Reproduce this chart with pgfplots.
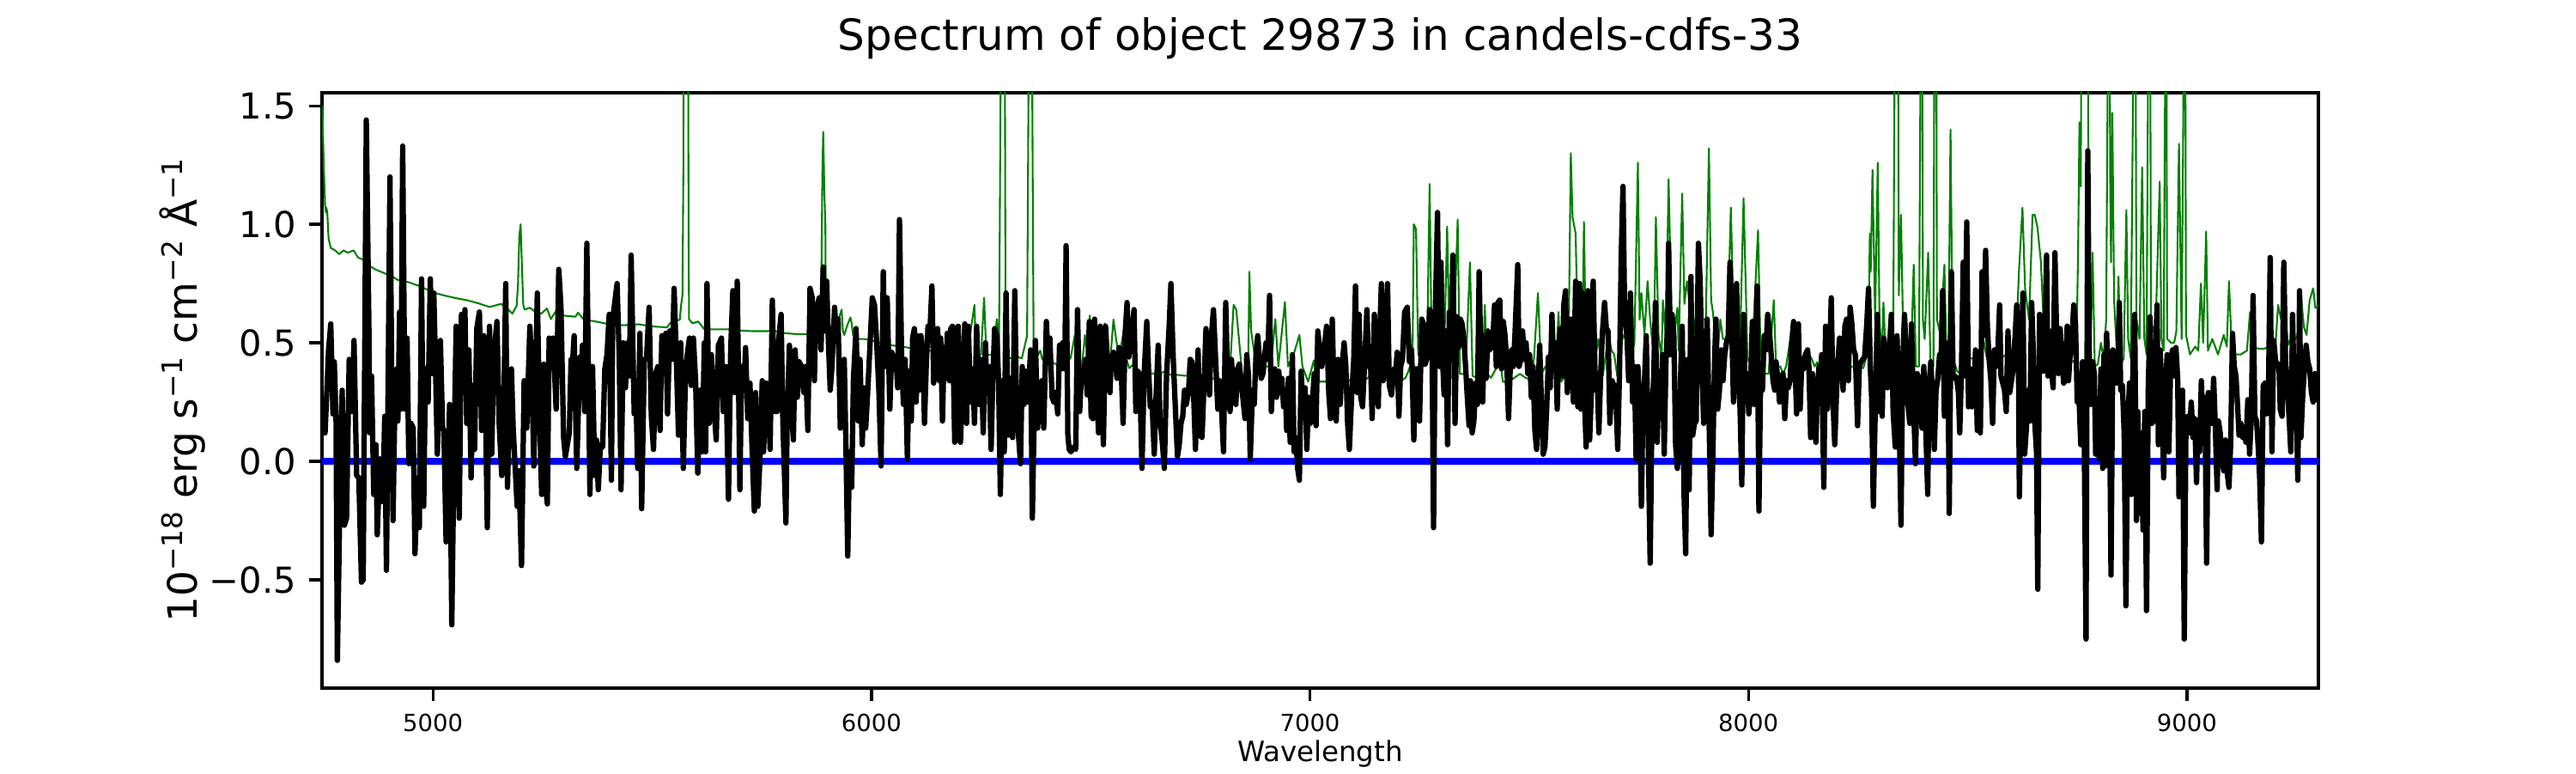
\documentclass[border=0pt]{standalone}
\usepackage{fontspec}
\setmainfont{DejaVu Sans}
\usepackage{pgfplots}
\pgfplotsset{compat=1.18}
\definecolor{mplgreen}{RGB}{0,128,0}
\definecolor{mplblue}{RGB}{0,0,255}
\newcommand\sups[1]{\raisebox{4.2bp}{\fontsize{7.9bp}{8bp}\selectfont #1}}
\begin{document}
\begin{tikzpicture}
\begin{axis}[
  at={(90bp,23.76bp)}, anchor=south west,
  scale only axis, width=558bp, height=166.32bp,
  xmin=4747, xmax=9300, ymin=-0.957, ymax=1.555,
  axis line style={line width=0.8bp},
  tick align=outside, tick pos=left,
  major tick length=3.5bp,
  every tick/.style={black, line width=0.8bp},
  xtick={5000,6000,7000,8000,9000},
  xticklabels={5000,6000,7000,8000,9000},
  ytick={-0.5,0,0.5,1,1.5},
  yticklabels={−0.5,0.0,0.5,1.0,1.5},
  xticklabel style={font=\fontsize{6.6bp}{8bp}\selectfont, anchor=base, inner sep=0pt, yshift=-8.5bp},
  yticklabel style={font=\fontsize{10bp}{12bp}\selectfont, anchor=east, inner sep=0pt, xshift=-3.5bp},
  title={Spectrum of object 29873 in candels-cdfs-33},
  title style={at={(axis description cs:0.5,1)}, anchor=base, yshift=6bp, inner sep=0pt, font=\fontsize{12bp}{14bp}\selectfont},
  xlabel={Wavelength},
  xlabel style={at={(axis description cs:0.5,-0.1233)}, anchor=base, inner sep=0pt, font=\fontsize{7.8bp}{9bp}\selectfont},
  ylabel={10\sups{−18} erg s\sups{−1} cm\sups{−2} Å\sups{−1}},
  ylabel style={at={(axis description cs:-0.0624,0.5)}, anchor=base, inner sep=0pt, font=\fontsize{11.3bp}{13bp}\selectfont},
]
\addplot[mplgreen, line width=0.5bp, line join=round] table {
x y
4747 1.50
4748 1.48
4751 1.25
4754 1.08
4756 1.05
4757 1.07
4759 1.05
4762 0.94
4767 0.90
4777 0.89
4786 0.874
4796 0.89
4806 0.88
4819 0.89
4829 0.86
4842 0.85
4855 0.825
4868 0.81
4881 0.80
4894 0.79
4907 0.78
4920 0.765
4933 0.76
4946 0.755
4959 0.746
4972 0.738
4985 0.726
4999 0.713
5025 0.70
5051 0.689
5077 0.68
5103 0.667
5129 0.651
5155 0.664
5168 0.648
5181 0.623
5191 0.656
5194 0.75
5197 0.95
5200 1.00
5203 0.82
5206 0.66
5209 0.64
5221 0.648
5234 0.63
5247 0.623
5260 0.645
5269 0.60
5279 0.63
5298 0.615
5325 0.61
5331 0.627
5344 0.598
5371 0.59
5403 0.578
5436 0.574
5469 0.578
5501 0.569
5534 0.565
5540 0.582
5563 0.598
5566 0.66
5569 0.70
5571 1.2
5573 2.5
5577 3.0
5581 2.5
5583 1.0
5584 0.60
5592 0.582
5605 0.59
5619 0.557
5645 0.557
5671 0.557
5697 0.552
5729 0.549
5762 0.549
5775 0.552
5801 0.541
5827 0.537
5854 0.536
5873 0.536
5883 0.55
5886 0.79
5888 1.20
5890 1.39
5891 1.30
5893 1.11
5895 1.0
5896 0.60
5899 0.60
5906 0.565
5912 0.574
5919 0.557
5925 0.598
5932 0.64
5935 0.55
5938 0.533
5945 0.574
5952 0.607
5955 0.582
5958 0.533
5971 0.516
5984 0.516
6004 0.508
6017 0.50
6036 0.492
6056 0.487
6069 0.484
6082 0.48
6095 0.475
6121 0.467
6134 0.467
6147 0.459
6160 0.467
6167 0.484
6180 0.459
6199 0.451
6212 0.459
6225 0.533
6235 0.66
6238 0.48
6239 0.45
6250 0.45
6257 0.69
6262 0.45
6278 0.45
6286 0.60
6291 0.465
6296 2.0
6300 3.0
6304 2.0
6306 0.45
6317 0.434
6330 0.443
6343 0.434
6355 0.53
6358 1.5
6363 3.0
6367 1.5
6370 0.434
6376 0.434
6385 0.467
6389 0.434
6395 0.418
6409 0.418
6422 0.41
6435 0.40
6447 0.426
6454 0.434
6464 0.533
6470 0.40
6480 0.40
6487 0.533
6493 0.434
6498 0.615
6503 0.45
6513 0.434
6523 0.426
6532 0.582
6539 0.434
6545 0.434
6552 0.598
6558 0.516
6565 0.434
6575 0.549
6581 0.434
6588 0.393
6598 0.41
6611 0.377
6630 0.372
6656 0.369
6666 0.377
6676 0.365
6695 0.365
6715 0.361
6728 0.361
6754 0.352
6780 0.349
6806 0.344
6819 0.43
6826 0.66
6832 0.64
6839 0.50
6846 0.352
6859 0.369
6862 0.80
6866 0.55
6875 0.434
6885 0.40
6898 0.40
6911 0.40
6921 0.60
6928 0.40
6943 0.672
6950 0.40
6963 0.451
6976 0.533
6983 0.40
6996 0.336
7009 0.426
7015 0.32
7022 0.336
7035 0.336
7048 0.36
7061 0.36
7074 0.369
7087 0.344
7100 0.336
7113 0.336
7126 0.344
7139 0.36
7152 0.369
7165 0.36
7178 0.377
7192 0.369
7205 0.336
7218 0.352
7224 0.377
7234 0.434
7237 1.0
7242 0.98
7247 0.45
7254 0.516
7260 0.40
7267 0.434
7273 1.17
7278 0.434
7290 0.615
7296 0.631
7306 0.434
7313 0.99
7319 0.434
7329 0.566
7337 1.02
7342 0.369
7348 0.369
7355 0.369
7365 0.84
7371 0.36
7381 0.352
7394 0.385
7399 0.66
7404 0.369
7413 0.352
7427 0.40
7433 0.434
7440 0.336
7453 0.336
7466 0.352
7479 0.369
7492 0.352
7505 0.344
7511 0.434
7520 0.71
7528 0.369
7537 0.40
7550 0.377
7560 0.369
7567 0.63
7573 0.336
7583 0.36
7590 0.50
7595 1.30
7599 1.03
7606 0.96
7612 0.434
7621 0.434
7625 1.01
7629 0.516
7642 0.434
7648 0.40
7658 0.516
7668 0.36
7681 0.533
7688 0.467
7694 0.451
7701 0.36
7707 0.434
7714 0.533
7720 0.516
7727 0.533
7733 0.434
7740 0.50
7748 1.26
7752 0.598
7756 0.71
7763 0.533
7770 0.76
7776 0.598
7784 0.434
7789 1.03
7795 0.533
7802 0.434
7805 0.68
7812 0.516
7818 1.19
7825 0.598
7831 0.533
7838 0.648
7841 0.467
7849 1.13
7854 0.664
7860 0.76
7867 0.648
7874 0.516
7883 0.664
7890 0.434
7896 0.598
7903 0.598
7910 1.32
7915 0.68
7919 0.63
7929 0.434
7936 0.598
7942 0.516
7952 0.516
7960 1.07
7967 0.533
7975 0.434
7981 0.50
7989 1.11
7998 0.434
8007 0.40
8022 0.975
8027 0.516
8033 0.369
8046 0.369
8058 0.68
8063 0.40
8073 0.40
8079 0.369
8086 0.40
8097 0.533
8102 0.434
8112 0.40
8122 0.434
8131 0.467
8138 0.451
8144 0.434
8151 0.40
8157 0.418
8171 0.377
8184 0.385
8196 0.377
8210 0.385
8223 0.385
8236 0.40
8249 0.40
8262 0.393
8268 0.434
8274 0.566
8277 0.96
8279 0.80
8283 1.23
8289 0.598
8295 1.26
8299 0.598
8304 0.434
8308 0.67
8314 0.40
8324 0.385
8330 0.434
8333 1.5
8335 3.0
8340 3.0
8343 0.70
8348 1.04
8352 0.631
8360 0.598
8366 0.434
8373 0.566
8377 0.83
8382 0.40
8389 0.40
8392 1.5
8394 3.0
8397 1.5
8398 0.598
8402 0.516
8410 0.88
8415 0.434
8422 0.40
8425 2.5
8427 3.0
8429 1.5
8430 0.598
8438 0.533
8447 0.83
8451 0.50
8456 0.434
8461 1.40
8466 0.434
8477 0.377
8490 0.377
8503 0.434
8516 0.434
8529 0.434
8536 0.516
8542 0.451
8549 0.40
8562 0.434
8575 0.434
8588 0.451
8601 0.467
8614 0.664
8617 0.80
8625 1.07
8631 0.73
8640 0.598
8648 1.04
8653 1.04
8659 0.99
8667 0.844
8673 0.598
8680 0.467
8693 0.434
8706 0.40
8719 0.40
8725 0.41
8738 0.418
8748 0.434
8752 0.90
8755 1.43
8758 1.16
8761 2.5
8764 3.0
8770 3.0
8774 2.0
8777 0.434
8782 0.60
8785 0.88
8790 0.40
8797 0.41
8804 0.50
8810 0.434
8816 0.598
8819 1.5
8822 3.0
8825 1.2
8827 0.84
8830 1.47
8834 0.68
8840 0.467
8844 0.78
8849 0.41
8856 0.434
8862 1.06
8866 0.516
8872 0.434
8877 1.5
8881 3.0
8885 0.598
8892 0.516
8898 1.24
8903 0.516
8908 0.451
8911 1.5
8915 3.0
8918 0.598
8928 0.516
8938 1.18
8942 0.516
8947 0.467
8950 1.5
8952 3.0
8955 0.516
8964 0.50
8971 0.50
8976 0.549
8982 1.34
8988 0.516
8992 1.5
8995 3.0
8998 0.533
9007 0.451
9019 0.484
9026 0.467
9032 0.75
9037 0.50
9044 0.97
9048 0.467
9058 0.516
9071 0.451
9084 0.533
9091 0.484
9096 0.76
9101 0.533
9110 0.451
9123 0.451
9137 0.467
9144 0.63
9149 0.484
9163 0.475
9176 0.475
9189 0.484
9202 0.484
9208 0.66
9215 0.598
9221 0.66
9231 0.492
9241 0.533
9247 0.516
9254 0.533
9259 0.72
9267 0.566
9273 0.533
9280 0.68
9288 0.73
9293 0.647
9300 0.656
};
\addplot[mplblue, line width=1.7bp] coordinates {(4747,0) (9300,0)};
\addplot[black, line width=1.5bp, line join=round] table {
x y
4747 0.19
4754 0.12
4757 0.25
4762 0.47
4767 0.58
4772 0.20
4775 0.42
4779 0.19
4782 -0.84
4788 -0.14
4793 0.30
4798 -0.27
4803 -0.24
4809 0.43
4815 0.21
4820 0.51
4826 -0.06
4831 -0.07
4837 -0.51
4841 -0.50
4848 1.44
4854 0.56
4856 0.12
4860 0.36
4865 -0.14
4870 0.07
4873 -0.31
4879 0.01
4882 -0.17
4886 -0.16
4890 0.19
4894 -0.46
4902 1.20
4909 -0.25
4914 0.34
4918 0.39
4920 0.17
4924 0.63
4927 0.22
4931 1.33
4936 0.22
4941 0.52
4945 -0.01
4950 0.16
4955 0.14
4959 -0.39
4965 -0.07
4969 -0.28
4974 0.77
4979 -0.19
4983 0.39
4989 0.25
4994 0.77
4999 0.37
5002 0.71
5006 0.39
5010 0.03
5017 0.51
5022 0.14
5025 0.13
5030 -0.34
5038 0.24
5043 -0.69
5048 0.03
5053 0.57
5060 -0.24
5065 0.62
5069 0.43
5073 0.64
5077 0.16
5082 0.47
5087 -0.07
5091 0.32
5095 0.05
5100 0.56
5106 0.63
5111 0.13
5116 0.53
5120 0.22
5124 -0.28
5129 0.57
5134 0.03
5139 0.45
5146 0.59
5151 0.16
5157 -0.06
5161 0.16
5166 0.75
5170 -0.11
5175 0.25
5179 0.39
5183 0.14
5188 -0.04
5192 -0.19
5196 -0.04
5202 -0.44
5208 0.34
5214 0.14
5221 0.57
5225 0.43
5230 -0.02
5238 0.71
5243 0.19
5248 -0.14
5253 0.41
5256 -0.09
5261 -0.18
5265 0.52
5269 0.49
5274 0.52
5281 0.22
5287 0.81
5292 0.65
5298 0.10
5302 0.02
5311 0.12
5315 0.43
5318 0.40
5322 0.53
5328 -0.03
5335 0.44
5338 0.32
5341 0.49
5346 0.21
5351 0.92
5358 -0.14
5364 0.40
5369 -0.06
5373 0.09
5377 -0.12
5382 0.07
5387 0.06
5392 0.39
5397 0.45
5402 0.62
5407 -0.08
5410 0.60
5414 0.66
5420 0.75
5425 0.43
5429 -0.12
5434 0.50
5439 0.31
5444 0.50
5448 0.36
5452 0.87
5459 0.20
5462 0.34
5467 -0.03
5472 0.54
5476 -0.20
5482 0.43
5487 0.43
5493 0.65
5498 0.19
5503 0.05
5508 0.37
5513 0.40
5518 0.13
5522 0.53
5527 0.37
5531 0.54
5535 0.20
5540 0.55
5546 0.43
5550 0.73
5555 0.44
5560 0.11
5565 0.50
5571 -0.03
5576 0.36
5580 0.45
5585 0.52
5589 0.32
5594 0.52
5599 0.34
5604 -0.05
5609 0.30
5614 0.04
5619 0.50
5622 0.04
5625 0.75
5630 0.16
5635 0.45
5642 0.20
5646 0.09
5651 0.49
5658 0.52
5662 0.21
5668 0.40
5674 -0.16
5679 0.47
5684 0.72
5688 0.29
5694 0.76
5700 -0.12
5704 0.40
5709 0.30
5713 0.48
5718 0.18
5723 0.33
5728 0.04
5733 -0.21
5736 0.29
5741 -0.19
5746 0.02
5751 0.34
5754 0.04
5760 0.33
5764 0.29
5769 0.05
5774 0.68
5779 0.21
5785 0.21
5788 0.50
5794 0.62
5798 0.17
5805 -0.26
5808 0.19
5813 0.49
5818 0.21
5822 0.09
5826 0.47
5831 0.27
5835 0.42
5841 0.40
5846 0.29
5850 0.40
5855 0.13
5860 0.73
5865 0.69
5870 0.34
5873 0.66
5877 0.66
5881 0.69
5885 0.47
5890 0.82
5893 0.55
5898 0.76
5901 0.55
5906 0.30
5910 0.40
5916 0.65
5920 0.53
5924 0.60
5929 0.14
5933 0.21
5938 0.43
5942 0.05
5946 -0.40
5950 0.04
5955 -0.11
5959 0.35
5965 0.56
5970 0.17
5974 0.43
5979 0.07
5983 0.31
5987 0.14
5992 0.31
5997 0.50
6002 0.69
6007 0.66
6012 0.50
6017 0.30
6022 -0.02
6027 0.80
6031 0.40
6036 0.69
6042 0.22
6046 0.46
6051 0.44
6056 0.43
6060 0.31
6064 1.02
6069 0.42
6073 0.24
6077 0.43
6082 0.01
6086 0.38
6091 0.17
6094 0.52
6098 0.56
6102 0.25
6106 0.53
6109 0.30
6113 0.53
6118 0.43
6121 0.16
6125 0.40
6129 0.57
6133 0.53
6138 0.74
6142 0.33
6146 0.45
6151 0.56
6155 0.34
6158 0.52
6162 0.17
6166 0.48
6170 0.35
6173 0.54
6178 0.34
6181 0.56
6185 0.57
6190 0.08
6194 0.56
6198 0.57
6203 0.08
6207 0.27
6213 0.58
6217 0.16
6221 0.57
6226 0.25
6231 0.39
6235 0.16
6240 0.57
6245 0.24
6250 0.43
6255 0.12
6260 0.50
6263 0.30
6268 0.40
6273 0.05
6277 0.36
6281 0.56
6286 0.53
6290 0.34
6294 -0.14
6299 0.34
6303 0.04
6307 0.71
6312 0.11
6317 0.35
6322 0.10
6327 0.72
6331 0.22
6335 0.12
6340 -0.01
6344 0.40
6348 0.24
6353 0.38
6357 0.25
6363 0.47
6367 -0.24
6371 0.16
6374 0.51
6379 0.14
6384 0.32
6389 0.34
6393 0.14
6399 0.59
6403 0.43
6407 0.52
6412 0.27
6416 0.25
6420 0.29
6425 0.20
6429 0.49
6433 0.39
6436 0.50
6441 0.39
6444 0.91
6448 0.11
6451 0.05
6455 0.04
6461 0.06
6466 0.05
6470 0.64
6475 0.21
6479 0.37
6483 0.35
6488 0.43
6492 0.28
6497 0.59
6501 0.19
6505 0.18
6509 0.60
6513 0.32
6518 0.12
6522 0.57
6526 0.29
6529 0.07
6534 0.57
6539 0.40
6544 0.29
6547 0.43
6552 0.46
6556 0.44
6560 0.35
6565 0.48
6570 0.37
6574 0.16
6579 0.55
6583 0.67
6587 0.44
6591 0.53
6595 0.57
6599 0.64
6603 0.21
6608 0.38
6612 0.35
6617 -0.03
6622 0.37
6628 0.59
6632 0.39
6636 0.23
6640 0.25
6645 0.03
6649 0.27
6654 0.49
6658 0.18
6663 0.09
6668 -0.03
6673 0.36
6679 0.57
6683 0.75
6688 0.45
6693 0.23
6698 0.02
6702 0.07
6706 0.16
6710 0.19
6714 0.30
6718 0.24
6723 0.29
6727 0.43
6731 0.42
6735 0.27
6739 0.05
6745 0.47
6749 0.11
6754 0.10
6759 0.35
6763 0.56
6767 0.40
6771 0.28
6775 0.52
6780 0.64
6785 0.43
6790 0.22
6793 0.34
6799 0.20
6803 0.04
6808 0.67
6813 0.30
6818 0.21
6821 0.43
6826 0.29
6831 0.24
6835 0.39
6839 0.41
6843 0.34
6847 0.27
6852 0.18
6856 0.45
6860 0.36
6864 0.01
6869 0.30
6873 0.24
6877 0.45
6881 0.53
6885 0.43
6889 0.35
6893 0.37
6897 0.45
6900 0.50
6904 0.43
6908 0.70
6912 0.21
6916 0.36
6920 0.39
6924 0.27
6929 0.38
6932 0.29
6936 0.35
6940 0.23
6944 0.30
6947 0.13
6951 0.35
6955 0.08
6960 0.45
6964 0.04
6968 0.10
6972 -0.03
6976 -0.08
6980 0.38
6984 0.21
6989 0.31
6993 0.05
6997 0.27
7001 0.16
7005 0.23
7010 0.37
7014 0.15
7018 0.55
7022 0.48
7027 0.40
7030 0.43
7034 0.50
7038 0.57
7043 0.29
7047 0.18
7051 0.60
7056 0.21
7060 0.17
7064 0.43
7069 0.24
7073 0.39
7078 0.50
7082 0.40
7086 0.16
7090 0.05
7095 0.27
7100 0.43
7104 0.74
7108 0.29
7112 0.62
7116 0.27
7120 0.23
7125 0.42
7130 0.64
7134 0.40
7138 0.43
7142 0.18
7147 0.62
7151 0.42
7156 0.23
7159 0.53
7163 0.75
7167 0.34
7172 0.40
7177 0.75
7181 0.32
7186 0.28
7192 0.39
7195 0.36
7199 0.46
7203 0.19
7207 0.40
7211 0.43
7216 0.63
7222 0.65
7227 0.42
7232 0.47
7237 0.09
7241 0.39
7246 0.39
7250 0.17
7255 0.60
7259 0.58
7263 0.41
7269 0.45
7273 0.64
7278 0.61
7282 -0.28
7286 0.63
7291 1.05
7295 0.40
7299 0.84
7303 0.41
7306 0.28
7310 0.55
7314 0.07
7318 0.63
7322 0.43
7326 0.87
7331 0.16
7335 0.61
7339 0.48
7343 0.60
7347 0.58
7351 0.52
7355 0.40
7359 0.27
7363 0.15
7366 0.34
7370 0.12
7374 0.17
7378 0.33
7382 0.24
7386 0.80
7390 0.42
7394 0.25
7398 0.53
7402 0.35
7406 0.55
7410 0.47
7413 0.48
7417 0.50
7421 0.66
7425 0.40
7429 0.67
7433 0.68
7437 0.39
7441 0.59
7445 0.53
7449 0.42
7453 0.18
7457 0.40
7460 0.47
7464 0.40
7468 0.55
7474 0.83
7477 0.40
7481 0.43
7485 0.55
7489 0.43
7493 0.50
7497 0.37
7501 0.45
7505 0.27
7509 0.40
7513 0.13
7517 0.05
7520 0.27
7524 0.49
7528 0.25
7532 0.03
7536 0.06
7540 0.22
7544 0.44
7548 0.31
7552 0.62
7556 0.39
7560 0.50
7564 0.22
7567 0.45
7571 0.56
7575 0.36
7579 0.66
7583 0.72
7587 0.29
7591 0.53
7595 0.60
7601 0.25
7606 0.76
7611 0.23
7615 0.75
7618 0.22
7622 0.71
7626 0.27
7630 0.06
7634 0.72
7638 0.09
7642 0.30
7646 0.76
7651 0.30
7655 0.37
7659 0.12
7663 0.36
7667 0.54
7672 0.67
7676 0.56
7680 0.55
7684 0.16
7689 0.34
7693 0.32
7697 0.32
7702 0.05
7706 0.37
7710 0.87
7714 1.16
7718 0.60
7723 0.53
7727 0.34
7731 0.71
7736 0.25
7740 0.40
7744 0.01
7748 0.40
7752 0.24
7756 -0.19
7759 0.17
7763 0.34
7767 0.53
7771 0.14
7776 -0.43
7780 0.19
7784 0.35
7788 0.67
7792 0.08
7796 0.37
7800 0.18
7804 0.45
7808 0.03
7812 0.42
7816 0.59
7818 0.92
7822 0.45
7826 0.62
7830 0.53
7834 0.07
7838 -0.03
7842 0.09
7846 0.40
7849 0.57
7853 -0.12
7857 -0.39
7861 0.43
7865 -0.12
7869 0.78
7873 0.11
7877 0.16
7881 0.17
7886 0.92
7890 0.76
7894 0.39
7898 0.16
7902 0.34
7906 0.60
7911 0.11
7915 -0.31
7919 0.03
7923 0.43
7926 0.60
7930 0.22
7934 0.30
7938 0.47
7942 0.34
7946 0.45
7950 0.50
7954 0.53
7958 0.84
7962 0.57
7966 0.25
7970 0.52
7973 0.75
7977 0.37
7981 0.22
7985 -0.10
7989 0.62
7993 0.25
7997 0.37
8001 0.20
8005 0.32
8009 0.59
8013 0.24
8017 0.43
8020 0.74
8024 -0.21
8028 0.37
8032 0.30
8036 0.53
8040 0.47
8044 0.62
8048 0.55
8052 0.45
8056 0.34
8060 0.30
8063 0.42
8067 0.35
8071 0.25
8075 0.34
8079 0.37
8083 0.18
8087 0.34
8091 0.31
8095 0.34
8099 0.50
8103 0.59
8107 0.37
8110 0.20
8114 0.58
8118 0.22
8122 0.43
8126 0.39
8130 0.45
8135 0.47
8138 0.40
8142 0.10
8146 0.37
8150 0.16
8154 0.08
8157 0.30
8161 0.40
8163 0.25
8167 0.45
8172 -0.11
8176 0.57
8180 0.22
8185 0.43
8189 0.69
8193 0.25
8197 0.07
8201 0.29
8204 0.42
8208 0.52
8212 0.45
8216 0.30
8220 0.57
8224 0.60
8228 0.34
8232 0.65
8236 0.58
8240 0.47
8244 0.45
8249 0.15
8253 0.40
8257 0.42
8261 0.43
8265 0.44
8270 0.58
8274 0.73
8278 0.40
8281 0.27
8285 -0.19
8289 0.19
8294 0.62
8298 0.21
8301 0.47
8305 0.19
8309 0.52
8313 0.40
8317 0.31
8321 0.45
8326 0.62
8330 0.21
8335 0.06
8339 0.53
8343 0.26
8348 -0.27
8352 0.42
8356 0.62
8360 0.43
8364 0.24
8368 0.16
8372 0.58
8375 0.34
8381 -0.01
8385 0.37
8389 0.35
8392 0.27
8396 0.14
8400 0.40
8404 0.17
8409 -0.14
8412 0.32
8416 0.42
8420 0.27
8424 0.05
8428 0.30
8432 0.35
8436 0.45
8439 0.39
8443 0.72
8447 0.19
8451 0.50
8455 0.45
8458 -0.22
8463 0.80
8467 0.35
8471 0.36
8475 0.35
8479 0.29
8482 0.12
8486 0.40
8490 0.84
8494 0.36
8498 1.01
8502 0.23
8506 0.39
8510 0.23
8514 0.24
8518 0.47
8522 0.13
8526 0.43
8529 0.12
8533 0.80
8537 0.53
8541 0.89
8545 0.57
8549 0.43
8553 0.34
8557 0.16
8561 0.47
8565 0.40
8569 0.47
8573 0.66
8576 0.36
8580 0.33
8584 0.30
8588 0.21
8592 0.55
8596 0.29
8600 0.34
8604 0.39
8608 0.52
8612 0.66
8616 0.40
8618 -0.15
8622 0.37
8626 0.71
8630 0.03
8634 0.14
8638 0.30
8642 0.17
8646 0.67
8650 0.45
8653 0.17
8657 0.04
8660 -0.54
8664 0.62
8668 0.60
8672 0.38
8676 0.55
8680 0.87
8683 0.36
8687 0.55
8691 0.38
8695 0.31
8699 0.88
8703 0.53
8707 0.37
8711 0.56
8715 0.43
8719 0.33
8723 0.34
8727 0.57
8730 0.34
8733 0.43
8737 0.48
8742 0.66
8746 0.58
8750 0.25
8754 0.27
8758 0.07
8762 0.42
8766 0.07
8770 -0.75
8774 1.31
8778 0.29
8781 0.24
8785 0.42
8789 0.37
8792 0.03
8796 0.22
8800 0.01
8804 0.39
8808 -0.03
8811 0.45
8814 -0.02
8817 0.54
8821 0.29
8823 0.40
8827 -0.48
8831 0.47
8835 0.37
8839 0.33
8843 0.40
8846 0.67
8849 0.30
8853 0.32
8857 0.12
8861 -0.61
8865 0.14
8869 0.33
8873 -0.14
8877 0.40
8881 0.62
8885 -0.25
8888 0.21
8892 -0.22
8896 0.12
8900 -0.29
8904 0.21
8908 -0.63
8912 0.32
8916 0.61
8920 0.16
8924 0.17
8928 0.40
8932 0.66
8935 0.07
8939 0.47
8943 0.30
8947 -0.07
8951 0.30
8955 0.45
8959 0.04
8963 0.41
8967 0.47
8971 0.36
8975 0.48
8979 0.35
8982 -0.15
8986 0.19
8990 0.30
8994 -0.75
8998 0.18
9002 0.19
9006 0.12
9010 0.25
9014 0.10
9018 0.18
9022 -0.09
9025 0.14
9029 0.04
9033 0.34
9037 0.10
9041 0.27
9045 -0.43
9049 0.29
9053 0.27
9057 0.16
9061 0.35
9065 0.14
9069 -0.12
9072 0.17
9076 0.12
9080 0.01
9084 -0.04
9088 0.09
9092 -0.05
9096 -0.11
9100 0.08
9104 0.54
9108 0.40
9112 0.36
9116 0.22
9119 0.11
9123 0.16
9127 0.10
9131 0.11
9135 0.08
9139 0.26
9143 0.03
9147 0.19
9151 0.70
9155 0.19
9159 0.17
9163 0.05
9166 -0.07
9170 -0.34
9174 0.32
9178 0.33
9182 0.20
9186 0.29
9190 0.86
9194 0.04
9198 0.51
9202 0.43
9206 0.40
9210 0.41
9213 0.22
9217 0.19
9221 0.84
9225 0.43
9229 0.29
9233 0.19
9237 0.04
9241 0.62
9245 0.27
9249 0.29
9253 -0.08
9257 0.72
9260 0.10
9264 0.27
9268 0.39
9272 0.49
9276 0.42
9280 0.39
9284 0.29
9288 0.25
9292 0.37
9296 0.26
9300 0.35
};
\end{axis}
\pgfresetboundingbox
\path[use as bounding box] (0,0) rectangle (720bp,216bp);
\end{tikzpicture}
\end{document}
